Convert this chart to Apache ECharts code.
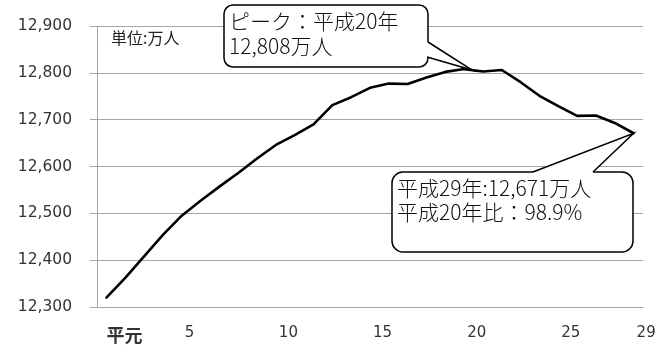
<!DOCTYPE html>
<html>
<head>
<meta charset="utf-8">
<script src="https://cdn.jsdelivr.net/npm/echarts@6/dist/echarts.min.js"></script>
<style>html,body{margin:0;padding:0;background:#fff;}#c{width:670px;height:347px;}</style>
</head>
<body>
<div id="c"></div>
<script>
// Heisei years (平元 = Heisei 1)
const categories = ['平元','2','3','4','5','6','7','8','9','10','11','12','13','14','15','16','17','18','19','20','21','22','23','24','25','26','27','28','29'];
// population, 万人
const population = [12320,12362,12408,12454,12495,12527,12557,12586,12617,12646,12667,12690,12731,12748,12768,12777,12776,12790,12802,12808,12803,12806,12780,12751,12729,12708,12709,12693,12671];
const shownXLabels = ['平元','5','10','15','20','25','29'];
const yTicks = [12300,12400,12500,12600,12700,12800,12900];
const unitText = '単位:万人';
const peakLines = ['ピーク：平成20年','12,808万人'];
const latestLines = ['平成29年:12,671万人','平成20年比：98.9%'];

const chart = echarts.init(document.getElementById('c'), null, {renderer:'canvas'});
const grey = '#a6a6a6';
const numFont = '"DejaVu Sans", "Noto Sans CJK JP", sans-serif';
const cjkFont = '"Noto Sans CJK JP", sans-serif';

chart.setOption({
  animation: false,
  backgroundColor: '#fff',
  grid: {left: 97, right: 27, top: 26, bottom: 40, containLabel: false},
  xAxis: {
    type: 'category',
    data: categories,
    boundaryGap: true,
    axisLine: {show: true, lineStyle: {color: grey, width: 1}},
    axisTick: {show: false},
    splitLine: {show: false},
    axisLabel: {
      interval: function (idx, val) { return shownXLabels.indexOf(val) >= 0; },
      align: 'left',
      margin: 19,
      formatter: function (v) { return v === '平元' ? '{c|' + v + '}' : '{n|' + v + '}'; },
      rich: {
        c: {fontFamily: cjkFont, fontSize: 18, fontWeight: 'bold', color: '#333', padding: [0,0,2,0]},
        n: {fontFamily: numFont, fontSize: 15, color: '#333', padding: [0,0,0,3]}
      }
    }
  },
  yAxis: {
    type: 'value',
    min: yTicks[0],
    max: yTicks[yTicks.length - 1],
    interval: 100,
    axisLine: {show: true, lineStyle: {color: grey, width: 1}},
    axisTick: {show: true, length: 7, lineStyle: {color: grey, width: 1}},
    splitLine: {show: true, lineStyle: {color: grey, width: 1}},
    axisLabel: {
      margin: 25,
      fontFamily: numFont,
      fontSize: 15.5,
      color: '#333',
      formatter: function (v) { return v.toLocaleString('en-US'); }
    }
  },
  series: [{
    type: 'line',
    data: population,
    symbol: 'none',
    smooth: false,
    lineStyle: {color: '#000', width: 2.6, join: 'round', cap: 'round'},
    z: 3
  }]
});

const peakIdx = population.indexOf(Math.max.apply(null, population));
const lastIdx = population.length - 1;
const peakPx = chart.convertToPixel({seriesIndex: 0}, [peakIdx, population[peakIdx]]);
const lastPx = chart.convertToPixel({seriesIndex: 0}, [lastIdx, population[lastIdx]]);

function callout(box, base1, tip, base2, inward) {
  return [
    {type: 'rect', z: 10, shape: {x: box[0], y: box[1], width: box[2] - box[0], height: box[3] - box[1], r: box[4]},
      style: {fill: '#fff', stroke: '#000', lineWidth: 1.5}},
    {type: 'polygon', z: 11, shape: {points: [[base1[0] + inward[0], base1[1] + inward[1]], base1, tip, base2, [base2[0] + inward[0], base2[1] + inward[1]]]},
      style: {fill: '#fff', stroke: null}},
    {type: 'polyline', z: 12, shape: {points: [base1, tip, base2]},
      style: {fill: null, stroke: '#000', lineWidth: 1.5, lineJoin: 'miter'}}
  ];
}
const tip1 = [peakPx[0] + 8, peakPx[1] + 1];
const tip2 = [lastPx[0], lastPx[1]];
const c1 = callout([224, 5, 428, 67, 9], [428, 42], tip1, [427, 57], [-3, 0]);
const c2 = callout([392, 172, 633, 252, 11], [533, 172], tip2, [593, 172], [0, 3]);

const txt = (t, x, y, size) => ({type: 'text', z: 20, style: {text: t, x: x, y: y, fill: '#111', fontFamily: cjkFont, fontWeight: 300, fontSize: size, verticalAlign: 'middle', align: 'left'}});

chart.setOption({
  graphic: [
    {type: 'text', z: 20, style: {text: unitText, x: 111, y: 38, fill: '#222', fontFamily: cjkFont, fontSize: 16, verticalAlign: 'middle'}}
  ].concat(c1, c2, [
    txt(peakLines[0], 229, 21, 21),
    txt(peakLines[1], 229, 46, 21),
    txt(latestLines[0], 397, 188, 21),
    txt(latestLines[1], 397, 212, 21)
  ])
});
</script>
</body>
</html>
